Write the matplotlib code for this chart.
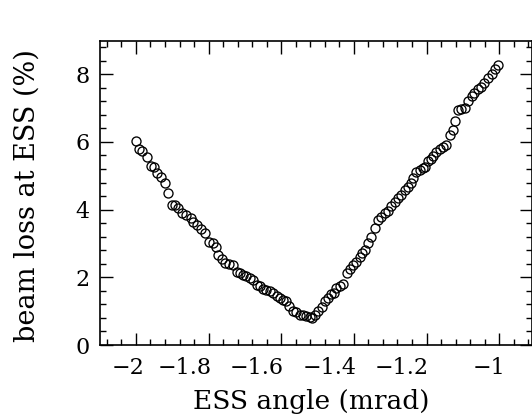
import matplotlib
matplotlib.use("Agg")
import matplotlib.pyplot as plt
import matplotlib.transforms as mtransforms
from matplotlib.ticker import MultipleLocator

angle = [-2.000, -1.991, -1.982, -1.970, -1.959, -1.949, -1.942, -1.931, -1.920, -1.911,
         -1.902, -1.893, -1.884, -1.873, -1.861, -1.849, -1.842, -1.833, -1.821, -1.810,
         -1.800, -1.789, -1.780, -1.774, -1.763, -1.755, -1.744, -1.732, -1.723, -1.714,
         -1.705, -1.696, -1.686, -1.677, -1.668, -1.659, -1.650, -1.641, -1.631, -1.622,
         -1.613, -1.604, -1.595, -1.586, -1.578, -1.568, -1.560, -1.549, -1.540, -1.531,
         -1.521, -1.516, -1.508, -1.498, -1.489, -1.480, -1.471, -1.462, -1.455, -1.448,
         -1.439, -1.430, -1.420, -1.411, -1.402, -1.393, -1.384, -1.379, -1.370, -1.361,
         -1.352, -1.343, -1.333, -1.324, -1.315, -1.306, -1.297, -1.287, -1.278, -1.270,
         -1.260, -1.251, -1.242, -1.237, -1.228, -1.219, -1.210, -1.205, -1.196, -1.188,
         -1.182, -1.173, -1.164, -1.155, -1.147, -1.136, -1.127, -1.122, -1.113, -1.104,
         -1.095, -1.086, -1.076, -1.068, -1.059, -1.050, -1.041, -1.031, -1.021, -1.012,
         -1.003]
loss = [6.03, 5.80, 5.73, 5.56, 5.29, 5.25, 5.08, 4.96, 4.79, 4.50,
        4.15, 4.15, 4.05, 3.89, 3.83, 3.75, 3.64, 3.55, 3.42, 3.32,
        3.05, 3.02, 2.90, 2.66, 2.55, 2.41, 2.40, 2.36, 2.15, 2.14,
        2.07, 2.04, 1.98, 1.92, 1.78, 1.75, 1.65, 1.62, 1.60, 1.55,
        1.45, 1.38, 1.33, 1.30, 1.15, 1.00, 0.97, 0.89, 0.88, 0.86,
        0.82, 0.80, 0.88, 1.00, 1.12, 1.30, 1.40, 1.50, 1.55, 1.68,
        1.75, 1.80, 2.12, 2.25, 2.36, 2.46, 2.60, 2.71, 2.81, 3.00,
        3.18, 3.45, 3.69, 3.78, 3.89, 3.96, 4.10, 4.22, 4.35, 4.42,
        4.58, 4.68, 4.80, 4.92, 5.10, 5.17, 5.22, 5.27, 5.45, 5.50,
        5.58, 5.70, 5.80, 5.85, 5.90, 6.20, 6.35, 6.63, 6.94, 6.97,
        6.99, 7.22, 7.35, 7.45, 7.55, 7.62, 7.73, 7.88, 8.02, 8.14,
        8.27]

xticks = [-2, -1.8, -1.6, -1.4, -1.2, -1]
xticklabels = ["\u22122", "\u22121.8", "\u22121.6", "\u22121.4", "\u22121.2", "\u22121"]
yticks = [0, 2, 4, 6, 8]
yticklabels = ["0", "2", "4", "6", "8"]
xlabel = "ESS angle (mrad)"
ylabel = "beam loss at ESS (%)"

plt.rcParams['font.family'] = ['DejaVu Serif']

W, H = 532, 417
fig = plt.figure(figsize=(W / 100, H / 100), dpi=100)
left, right, bottom, top = 100, 531.5, 345, 40.7
ax = fig.add_axes([left / W, (H - bottom) / H, (right - left) / W, (bottom - top) / H])

ax.plot(angle, loss, linestyle='none', marker='o', markersize=6.5,
        markerfacecolor='none', markeredgecolor='black', markeredgewidth=0.95)

ax.set_xlim(-2.099, -0.911)
ax.set_ylim(0, 8.99)
ax.set_xticks(xticks)
ax.set_xticklabels(xticklabels, fontsize=16)
ax.set_yticks(yticks)
ax.set_yticklabels(yticklabels, fontsize=16)
ax.xaxis.set_minor_locator(MultipleLocator(0.04))
ax.yaxis.set_minor_locator(MultipleLocator(0.4))

ax.tick_params(which='both', direction='in', top=True, right=True, width=1.0, colors='black')
ax.tick_params(which='major', length=9)
ax.tick_params(which='minor', length=4.5)
ax.tick_params(axis='x', which='major', pad=9)
ax.tick_params(axis='y', which='major', pad=7.5)
for s in ax.spines.values():
    s.set_linewidth(1.2)

# tick labels in the original sit a little left of their ticks
xoffsets_px = [-8, -24, -25, -24, -25, -10]
for lab, dx in zip(ax.get_xticklabels(), xoffsets_px):
    lab.set_transform(lab.get_transform() + mtransforms.ScaledTranslation(dx / 100, 0, fig.dpi_scale_trans))

fig.text(311 / W, (H - 409) / H, xlabel, fontsize=19, ha='center', va='baseline')
fig.text(35 / W, (H - 342) / H, ylabel, fontsize=19.5, rotation=90,
         rotation_mode='anchor', ha='left', va='baseline')

fig.savefig("out.png", dpi=100)
